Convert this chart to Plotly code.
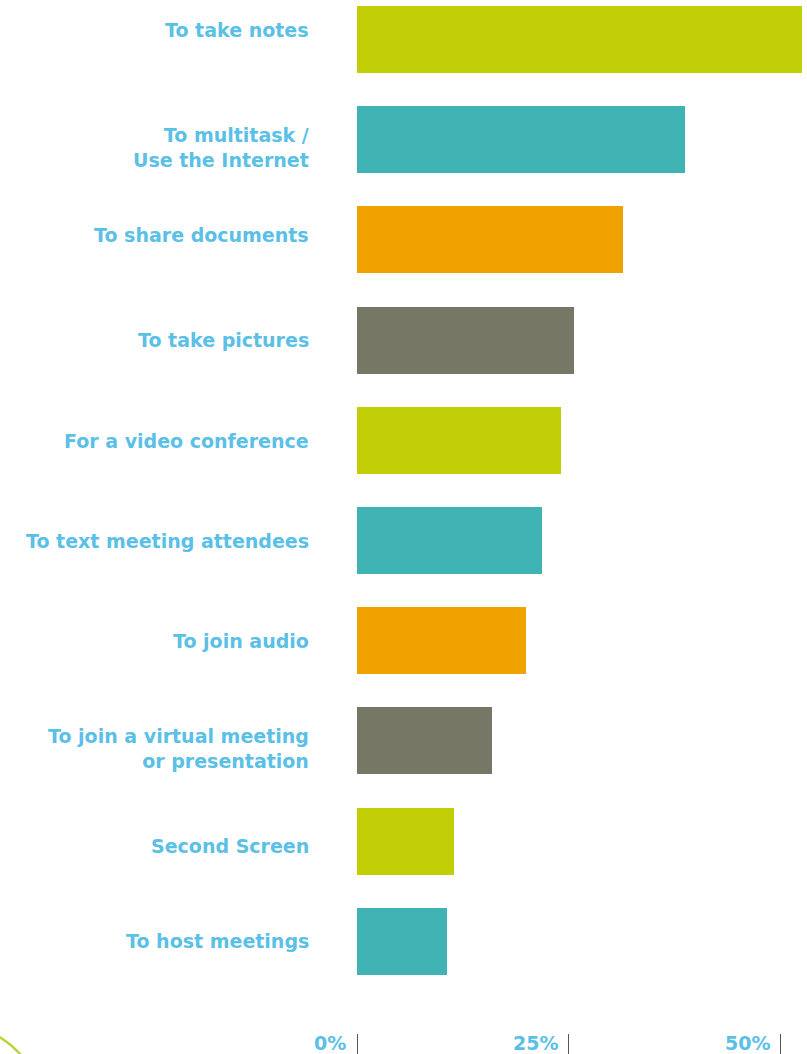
import plotly.graph_objects as go

categories = [
    "To take notes",
    "To multitask /<br>Use the Internet",
    "To share documents",
    "To take pictures",
    "For a video conference",
    "To text meeting attendees",
    "To join audio",
    "To join a virtual meeting<br>or presentation",
    "Second Screen",
    "To host meetings",
]
values = [52.5, 38.7, 31.4, 25.6, 24.1, 21.8, 19.9, 15.9, 11.4, 10.6]
bar_colors = ["#c3cf06", "#40b3b5", "#f0a200", "#767865", "#c3cf06",
              "#40b3b5", "#f0a200", "#767865", "#c3cf06", "#40b3b5"]
x_tick_vals = [0, 25, 50]
x_tick_text = ["0%", "25%", "50%"]

# label vertical nudges in pixels (style only, positive = up)
label_yshift = [9.5, -7.8, 4.9, 0, -0.7, -0.5, -0.3, -8, -4.9, 0]

W, H = 807, 1054
L, B = 357, 21
plot_h = H - B
plot_w = W - L
TEXT = "#5bc0e6"
FONT = "DejaVu Sans, Verdana, sans-serif"

positions = list(range(len(categories)))

fig = go.Figure(go.Bar(
    x=values, y=positions, orientation="h",
    marker=dict(color=bar_colors, line=dict(width=0)),
    width=0.67, hoverinfo="x+y",
))

px_per_unit = 8.47
x_max = plot_w / px_per_unit
first_center, spacing = 39.5, 100.2
y_top = -first_center / spacing
y_bot = (plot_h - first_center) / spacing

fig.update_xaxes(
    range=[0, x_max], tickvals=x_tick_vals, showticklabels=False,
    ticks="outside", ticklen=21, tickwidth=1, tickcolor="#555555",
    showgrid=False, zeroline=False, showline=False, fixedrange=True,
)
fig.update_yaxes(
    range=[y_bot, y_top], tickvals=positions, showticklabels=False,
    ticks="", showgrid=False, zeroline=False, showline=False, fixedrange=True,
)

annotations = []
for pos, cat, ys in zip(positions, categories, label_yshift):
    lines = cat.split("<br>")
    annotations.append(dict(
        x=0, xref="paper", y=pos, yref="y",
        text="<br>".join("<b>%s</b>" % s for s in lines),
        showarrow=False, xanchor="right", yanchor="middle", align="right",
        xshift=-46, yshift=ys,
        font=dict(family=FONT, size=19, color=TEXT),
    ))
for v, t in zip(x_tick_vals, x_tick_text):
    annotations.append(dict(
        x=v, xref="x", y=(plot_h - 1043) / plot_h, yref="paper",
        text="<b>%s</b>" % t, showarrow=False, xanchor="right", yanchor="middle",
        xshift=-9, font=dict(family=FONT, size=19, color=TEXT),
    ))

def px(xp, yp):
    return (xp - L) / plot_w, (plot_h - yp) / plot_h

p0 = px(-2, 1036)
p1 = px(10, 1043)
p2 = px(22, 1056)
fig.add_shape(type="path", xref="paper", yref="paper",
              path="M %f,%f Q %f,%f %f,%f" % (p0[0], p0[1], p1[0], p1[1], p2[0], p2[1]),
              line=dict(color="#b9d640", width=2.5))

fig.update_layout(
    width=W, height=H, margin=dict(l=L, r=0, t=0, b=B, pad=0),
    paper_bgcolor="white", plot_bgcolor="white", showlegend=False,
    annotations=annotations, bargap=0,
)

fig.write_html("out.html", include_plotlyjs=True, config={"displayModeBar": False})
